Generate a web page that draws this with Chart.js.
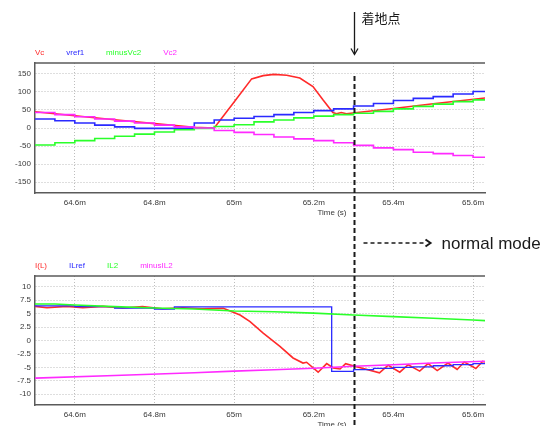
<!DOCTYPE html>
<html><head><meta charset="utf-8">
<script src="https://cdn.jsdelivr.net/npm/chart.js@4"></script>
<style>
html,body{margin:0;padding:0;background:#fff;width:544px;height:426px;overflow:hidden}
canvas{position:absolute;left:0}
#cTop{top:40px}
#cBot{top:240px}
#ov{top:0;pointer-events:none}
</style></head><body>
<canvas id="cTop" width="500" height="190"></canvas>
<canvas id="cBot" width="500" height="186"></canvas>
<canvas id="ov" width="544" height="426"></canvas>
<script>
// ---- shared x axis (time, ms) ----
const xTicks = [64.6, 64.8, 65.0, 65.2, 65.4, 65.6];
const xLabels = ['64.6m', '64.8m', '65m', '65.2m', '65.4m', '65.6m'];
const markT = 65.3;

// ---- top chart: voltages ----
const topNames = ['Vc', 'vref1', 'minusVc2', 'Vc2'];
const topTicks = [-150, -100, -50, 0, 50, 100, 150];
const tTop = [64.50,64.55,64.60,64.65,64.70,64.75,64.80,64.85,64.90,64.95,65.00,65.05,65.10,65.15,65.20,65.25,65.30,65.35,65.40,65.45,65.50,65.55,65.60,65.63];
const vref1 = [25,20,14,8,3,-1,-1,-1,14,22,27,32,37,43,48,53,61,68,76,82,87,94,101,101];
const minusVc2 = [-47,-41,-35,-29,-23,-17,-11,-5,-1,4,9,17,22,28,33,37,41,46,53,60,66,73,78,78];
const Vc2 = [43,37,31,25,19,14,8,3,0,-7,-12,-18,-25,-30,-35,-41,-48,-55,-60,-67,-71,-76,-81,-81];
const tVc = [64.50,64.60,64.70,64.80,64.90,64.95,65.00,65.044,65.073,65.10,65.132,65.165,65.198,65.223,65.248,65.257,65.269,65.282,65.298,65.40,65.50,65.63];
const Vc = [45,34,23,12,2,0,72,136,145,148.5,146,138.5,115,78,43,39.5,43,39.5,41.5,54,67,83];

// ---- bottom chart: currents ----
const botNames = ['I(L)', 'ILref', 'IL2', 'minusIL2'];
const botTicks = [-10, -7.5, -5, -2.5, 0, 2.5, 5, 7.5, 10];
const tIL = [64.50,64.53,64.58,64.62,64.67,64.72,64.77,64.82,64.87,64.92,64.973,64.99,65.015,65.04,65.073,65.115,65.148,65.173,65.182,65.211,65.2325,65.249,65.266,65.28,65.303,65.365,65.387,65.416,65.437,65.466,65.487,65.51,65.537,65.56,65.578,65.607,65.624,65.63];
const IL = [6.35,6.1,6.35,6.1,6.35,6.05,6.3,5.9,6.1,5.9,5.98,5.5,4.74,3.5,1.37,-1.1,-3.25,-4.2,-4.05,-5.9,-4.3,-5.1,-5.3,-4.3,-4.8,-6.0,-4.6,-5.9,-4.5,-5.7,-4.3,-5.6,-4.2,-5.4,-4.0,-5.2,-3.9,-4.0];
const tILref = [64.50,64.60,64.70,64.80,64.85,65.245,65.30,65.35,65.40,65.45,65.50,65.55,65.60,65.63];
const ILref = [6.45,6.3,6.05,5.85,6.25,-5.75,-5.4,-5.2,-5.0,-4.9,-4.7,-4.5,-4.3,-4.3];
const tIL2 = [64.50,64.55,64.60,64.70,64.80,64.90,65.00,65.10,65.20,65.30,65.40,65.50,65.60,65.63];
const IL2 = [6.8,6.8,6.6,6.3,6.05,5.85,5.5,5.35,5.1,4.75,4.45,4.15,3.8,3.7];
const tMIL2 = [64.50,64.70,64.90,65.00,65.10,65.20,65.30,65.40,65.50,65.63];
const minusIL2 = [-7.0,-6.5,-6.0,-5.7,-5.45,-5.15,-4.8,-4.5,-4.2,-3.85];

const colors = ['#ff2a2a', '#2a2aff', '#2aff2a', '#ff2aff'];
const FONT = '"Liberation Sans", Arial, sans-serif';
Chart.defaults.font.family = FONT;
Chart.defaults.font.size = 8;
Chart.defaults.color = '#383838';

const pts = (t, v) => t.map((x, i) => ({x: x, y: v[i]}));

const framePlugin = {
  id: 'frame',
  afterDraw(chart) {
    const {ctx, chartArea: a} = chart;
    ctx.save();
    // top border
    ctx.strokeStyle = '#5a5a5a';
    ctx.lineWidth = 1.5;
    ctx.beginPath(); ctx.moveTo(a.left, a.top); ctx.lineTo(a.right, a.top); ctx.stroke();
    // legend (coloured text)
    ctx.font = '8px ' + FONT;
    ctx.textBaseline = 'middle';
    let x = a.left;
    chart.data.datasets.forEach(ds => {
      ctx.fillStyle = ds.borderColor;
      ctx.fillText(ds.label, x, a.top - 10);
      x += ctx.measureText(ds.label).width + 22;
    });
    // axis title
    ctx.fillStyle = '#383838';
    ctx.textAlign = 'center';
    ctx.fillText('Time (s)', a.left + (a.right - a.left) * 0.66, a.bottom + 20);
    ctx.restore();
  }
};

function makeChart(id, datasets, yMin, yMax, yTicks, padTop, xAxisH) {
  return new Chart(document.getElementById(id), {
    type: 'line',
    data: {datasets},
    options: {
      responsive: false,
      animation: false,
      events: [],
      layout: {padding: {left: 0, right: 15, top: padTop, bottom: 0}},
      plugins: {legend: {display: false}, tooltip: {enabled: false}},
      elements: {point: {radius: 0}, line: {borderWidth: 1.6, tension: 0}},
      scales: {
        x: {
          type: 'linear', min: 64.5, max: 65.63,
          afterBuildTicks: s => { s.ticks = xTicks.map(v => ({value: v})); },
          afterFit: s => { s.height = xAxisH; },
          ticks: {autoSkip: false, maxRotation: 0, padding: 5,
                  callback: (v, i) => xLabels[i]},
          grid: {color: '#bdbdbd', lineWidth: 1, drawTicks: false},
          border: {display: true, color: '#5a5a5a', width: 1.5, dash: [1, 2]}
        },
        y: {
          min: yMin, max: yMax,
          afterBuildTicks: s => { s.ticks = yTicks.map(v => ({value: v})); },
          afterFit: s => { s.width = 35; },
          ticks: {autoSkip: false, padding: 4, callback: v => String(v)},
          grid: {color: '#bdbdbd', lineWidth: 1, drawTicks: false},
          border: {display: true, color: '#5a5a5a', width: 1.5, dash: [1, 2]}
        }
      }
    },
    plugins: [framePlugin]
  });
}

function ds(label, t, v, i, stepped, order) {
  return {label, data: pts(t, v), borderColor: colors[i], backgroundColor: colors[i],
          stepped: stepped, order: order, fill: false};
}

const topChart = makeChart('cTop', [
  ds(topNames[0], tVc, Vc, 0, false, 3),
  ds(topNames[1], tTop, vref1, 1, true, 2),
  ds(topNames[2], tTop, minusVc2, 2, true, 1),
  ds(topNames[3], tTop, Vc2, 3, true, 0)
], -180, 180, topTicks, 23, 37);

const botChart = makeChart('cBot', [
  ds(botNames[0], tIL, IL, 0, false, 3),
  Object.assign(ds(botNames[1], tILref, ILref, 1, true, 2), {borderWidth: 1.3}),
  ds(botNames[2], tIL2, IL2, 2, false, 1),
  ds(botNames[3], tMIL2, minusIL2, 3, false, 0)
], -12, 12, botTicks, 36, 21);

// ---- annotations overlay ----
const ov = document.getElementById('ov').getContext('2d');
const topOff = 40, botOff = 240;
const mx = Math.round(topChart.scales.x.getPixelForValue(markT)) + 0.5;
ov.strokeStyle = '#1a1a1a';
ov.fillStyle = '#1a1a1a';
// dashed vertical marker
ov.lineWidth = 2;
ov.setLineDash([5, 3]);
ov.beginPath(); ov.moveTo(mx, topChart.chartArea.top + topOff + 13); ov.lineTo(mx, 426); ov.stroke();
// landing-point arrow
ov.setLineDash([]);
ov.lineWidth = 1.3;
ov.beginPath(); ov.moveTo(mx, 12); ov.lineTo(mx, 54); ov.stroke();
ov.beginPath(); ov.moveTo(mx - 3.5, 48.5); ov.lineTo(mx, 54.5); ov.lineTo(mx + 3.5, 48.5); ov.stroke();
ov.font = '13px "Noto Sans CJK JP", sans-serif';
ov.textBaseline = 'middle';
ov.fillText('着地点', mx + 7, 18);
// normal mode arrow
const ny = botChart.chartArea.top + botOff - 33;
ov.lineWidth = 1.5;
ov.setLineDash([4, 3]);
ov.beginPath(); ov.moveTo(mx + 9, ny); ov.lineTo(mx + 72, ny); ov.stroke();
ov.setLineDash([]);
ov.lineWidth = 2;
ov.beginPath(); ov.moveTo(mx + 71, ny - 3.5); ov.lineTo(mx + 76, ny); ov.lineTo(mx + 71, ny + 3.5); ov.stroke();
ov.font = '17px "Liberation Sans", Arial, sans-serif';
ov.textBaseline = 'alphabetic';
ov.fillText('normal mode', mx + 87, ny + 5.5);
</script>
</body></html>
